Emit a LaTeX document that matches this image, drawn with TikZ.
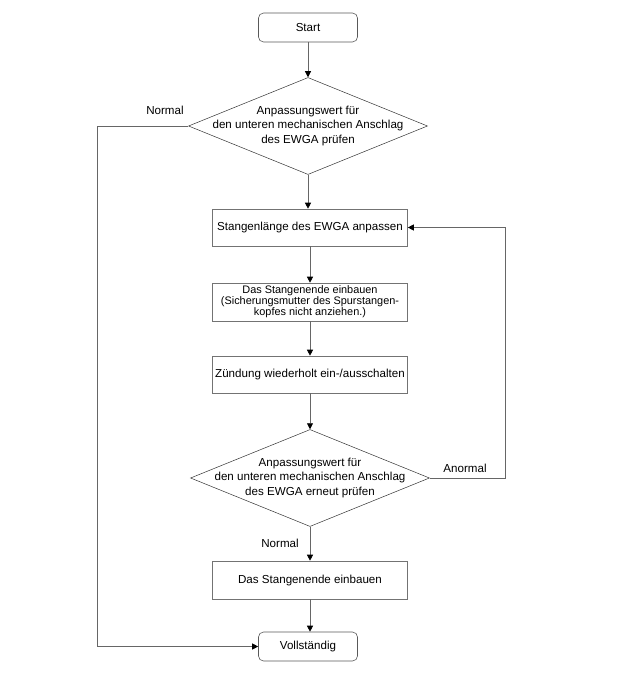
\documentclass[tikz,border=0pt]{standalone}
\usepackage{fontspec}
\setmainfont{Liberation Sans}
\usetikzlibrary{shapes.geometric,arrows.meta}
\tikzset{
  x=1pt,y=-1pt,
  every node/.style={font=\fontsize{11.6}{14.5}\selectfont},
  term/.style={draw=black!65,rounded corners=5pt,minimum width=99pt,minimum height=29pt,inner sep=0pt,line width=0.6pt},
  procbox/.style={draw=black!55,minimum width=195pt,minimum height=37pt,inner sep=0pt,line width=0.6pt},
  dia/.style={draw=black!80,diamond,minimum width=239pt,minimum height=97pt,inner sep=0pt,line width=0.5pt},
  diatext/.style={align=center,inner sep=0pt},
  lbl/.style={inner sep=0pt},
  conn/.style={draw=black!60,line width=0.7pt,-{Triangle[length=6pt,width=6pt,color=black]}},
  plain/.style={draw=black!60,line width=0.7pt}
}
\begin{document}
\begin{tikzpicture}
\useasboundingbox (0,0) rectangle (623,674);
\node[term] (start) at (308,27.5) {Start};
\node[dia] (d1) at (308,126) {};
\node[diatext] at (d1) {Anpassungswert für\\den unteren mechanischen Anschlag\\des EWGA prüfen};
\node[procbox] (b1) at (310,227.5) {Stangenlänge des EWGA anpassen};
\node[procbox,minimum height=38pt,align=center,font=\fontsize{10.9}{11}\selectfont] (b2) at (310,302) {Das Stangenende einbauen\\(Sicherungsmutter des Spurstangen-\\kopfes nicht anziehen.)};
\node[procbox] (b3) at (310,374.5) {Zündung wiederholt ein-/ausschalten};
\node[dia] (d2) at (310,478) {};
\node[diatext] at (d2) {Anpassungswert für\\den unteren mechanischen Anschlag\\des EWGA erneut prüfen};
\node[procbox,minimum height=38pt] (b4) at (310,580) {Das Stangenende einbauen};
\node[term] (end) at (308,646.5) {Vollständig};

\node[lbl] (l1) at (165,110) {Normal};
\node[lbl] (l2) at (465,468) {Anormal};
\node[lbl] (l3) at (280,543) {Normal};

\coordinate (cl) at (97,126);
\coordinate (cr) at (505,478);

\draw[conn] (start.south) -- (start.south |- d1.north);
\draw[conn] (d1.south) -- (d1.south |- b1.north);
\draw[conn] (b1.south) -- (b2.north);
\draw[conn] (b2.south) -- (b3.north);
\draw[conn] (b3.south) -- (b3.south |- d2.north);
\draw[conn] (d2.south) -- (d2.south |- b4.north);
\draw[conn] (b4.south) -- (b4.south |- end.north);
\draw[conn] (d1.west) -- (cl) |- (end.west);
\draw[conn] (d2.east) -- (cr) |- (b1.east);
\end{tikzpicture}
\end{document}
